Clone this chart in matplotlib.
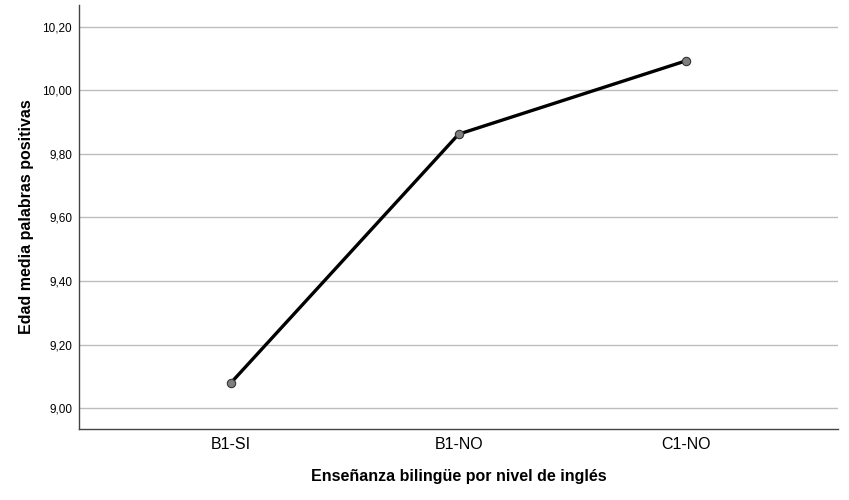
import matplotlib.pyplot as plt
from matplotlib.ticker import FuncFormatter

plt.rcParams['font.family'] = ['Liberation Sans', 'DejaVu Sans']

categories = ['B1-SI', 'B1-NO', 'C1-NO']
mean_age = [9.08, 9.862, 10.093]
y_ticks = [9.0, 9.2, 9.4, 9.6, 9.8, 10.0, 10.2]

fig = plt.figure(figsize=(8.49, 5.0), dpi=100)
ax = fig.add_axes([0.093, 0.142, 0.894, 0.848])

x = list(range(len(categories)))
ax.plot(x, mean_age, color='black', linewidth=2.4, zorder=3,
        marker='o', markersize=6, markerfacecolor='#7f7f7f',
        markeredgecolor='#333333', markeredgewidth=0.8)

ax.set_xlim(-0.667, 2.665)
ax.set_ylim(8.935, 10.268)
ax.set_xticks(x)
ax.set_xticklabels(categories, fontsize=11.5)
ax.set_yticks(y_ticks)
ax.yaxis.set_major_formatter(FuncFormatter(lambda v, p: f'{v:.2f}'.replace('.', ',')))
ax.tick_params(axis='y', labelsize=8.5, length=0, pad=5)
ax.tick_params(axis='x', length=0, pad=6)

ax.grid(axis='y', color='#bdbdbd', linewidth=1)
ax.set_axisbelow(True)
for sp in ['top', 'right']:
    ax.spines[sp].set_visible(False)
for sp in ['left', 'bottom']:
    ax.spines[sp].set_color('#444444')
    ax.spines[sp].set_linewidth(1)

ax.set_xlabel('Enseñanza bilingüe por nivel de inglés', fontsize=11.5,
              fontweight='bold', labelpad=12)
ax.set_ylabel('Edad media palabras positivas', fontsize=11.5,
              fontweight='bold', labelpad=6)

fig.savefig('out.png', dpi=100)
